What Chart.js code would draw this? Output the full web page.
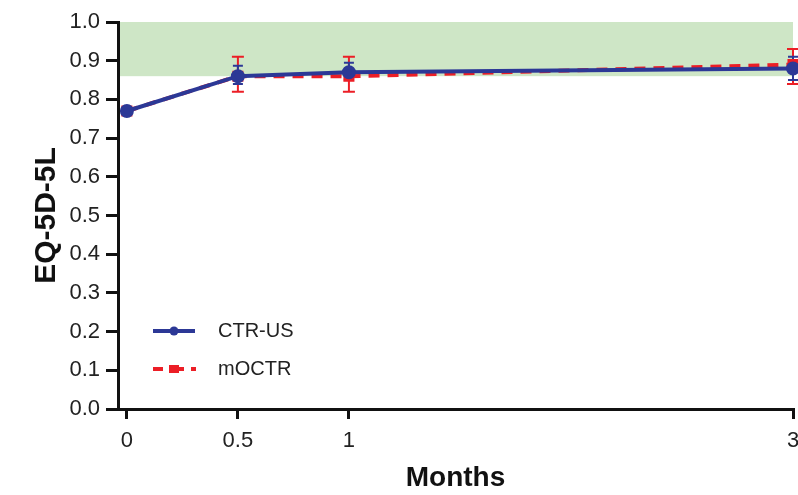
<!DOCTYPE html>
<html>
<head>
<meta charset="utf-8">
<script src="https://cdn.jsdelivr.net/npm/chart.js@4.4.1/dist/chart.umd.min.js"></script>
<style>
  html, body { margin: 0; padding: 0; background: #fff; }
  #wrap { width: 798px; height: 495px; }
</style>
</head>
<body>
<div id="wrap"><canvas id="eqChart" width="798" height="495"></canvas></div>
<script>
// Data
const months = [0, 0.5, 1, 3];
const xTickValues = [0, 0.5, 1, 3];

const ctrUsMean = [0.77, 0.86, 0.87, 0.88];
const ctrUsLow  = [0.77, 0.84, 0.85, 0.85];
const ctrUsHigh = [0.77, 0.887, 0.895, 0.91];

const moctrMean = [0.77, 0.86, 0.86, 0.89];
const moctrLow  = [0.77, 0.82, 0.82, 0.84];
const moctrHigh = [0.77, 0.91, 0.91, 0.93];

const bandLow = 0.86;
const bandHigh = 1.0;

const BLUE = 'rgb(44,56,150)';
const RED = 'rgb(236,30,38)';
const GREEN = 'rgb(206,230,198)';
const FONT = '"Liberation Sans", Arial, sans-serif';

// green reference band behind everything
const bandPlugin = {
    id: 'band',
    beforeDatasetsDraw(chart) {
        const { ctx, chartArea, scales } = chart;
        const yTop = scales.y.getPixelForValue(bandHigh);
        const yBot = scales.y.getPixelForValue(bandLow);
        ctx.save();
        ctx.fillStyle = GREEN;
        ctx.fillRect(chartArea.left + 2, yTop, chartArea.right - chartArea.left - 2, yBot - yTop);
        ctx.restore();
    }
};

// error bars, drawn before the lines
const errorBarPlugin = {
    id: 'errorBars',
    beforeDatasetsDraw(chart) {
        const { ctx, scales } = chart;
        const sets = [
            { lo: moctrLow, hi: moctrHigh, color: RED, cap: 6 },
            { lo: ctrUsLow, hi: ctrUsHigh, color: BLUE, cap: 5 }
        ];
        ctx.save();
        sets.forEach(s => {
            ctx.strokeStyle = s.color;
            ctx.lineWidth = 2;
            months.forEach((m, i) => {
                const x = scales.x.getPixelForValue(m);
                const y1 = scales.y.getPixelForValue(s.lo[i]);
                const y2 = scales.y.getPixelForValue(s.hi[i]);
                ctx.beginPath();
                ctx.moveTo(x, y1); ctx.lineTo(x, y2);
                ctx.moveTo(x - s.cap, y1); ctx.lineTo(x + s.cap, y1);
                ctx.moveTo(x - s.cap, y2); ctx.lineTo(x + s.cap, y2);
                ctx.stroke();
            });
        });
        ctx.restore();
    }
};

// legend inside the plot, lower left
const legendPlugin = {
    id: 'innerLegend',
    afterDraw(chart) {
        const { ctx } = chart;
        const ds = chart.data.datasets;
        ctx.save();
        ctx.font = '20px ' + FONT;
        ctx.textBaseline = 'middle';

        // CTR-US
        let y = 331;
        ctx.strokeStyle = BLUE;
        ctx.lineWidth = 4;
        ctx.beginPath(); ctx.moveTo(153, y); ctx.lineTo(195, y); ctx.stroke();
        ctx.fillStyle = BLUE;
        ctx.beginPath(); ctx.arc(174, y, 4.5, 0, Math.PI * 2); ctx.fill();
        ctx.fillStyle = '#222';
        ctx.fillText(ds[0].label, 218, y);

        // mOCTR
        y = 369;
        ctx.strokeStyle = RED;
        ctx.beginPath(); ctx.moveTo(153, y); ctx.lineTo(163, y); ctx.stroke();
        ctx.beginPath(); ctx.moveTo(191, y); ctx.lineTo(196, y); ctx.stroke();
        ctx.fillStyle = RED;
        ctx.fillRect(169, y - 4, 10, 8);
        ctx.fillRect(179, y - 2, 5, 4);
        ctx.fillStyle = '#222';
        ctx.fillText(ds[1].label, 218, y);
        ctx.restore();
    }
};

const ctx = document.getElementById('eqChart').getContext('2d');
new Chart(ctx, {
    type: 'line',
    data: {
        datasets: [
            {
                label: 'CTR-US',
                data: months.map((m, i) => ({ x: m, y: ctrUsMean[i] })),
                borderColor: BLUE,
                backgroundColor: BLUE,
                borderWidth: 4,
                pointRadius: 5,
                pointStyle: 'circle',
                tension: 0,
                clip: false
            },
            {
                label: 'mOCTR',
                data: months.map((m, i) => ({ x: m, y: moctrMean[i] })),
                borderColor: RED,
                backgroundColor: RED,
                borderWidth: 4,
                borderDash: [11, 8],
                pointRadius: 5,
                pointStyle: 'rect',
                tension: 0,
                clip: false
            }
        ]
    },
    options: {
        responsive: false,
        animation: false,
        layout: { autoPadding: false, padding: { top: 22, right: 5, left: 0, bottom: 0 } },
        plugins: {
            legend: { display: false },
            tooltip: { enabled: false }
        },
        scales: {
            x: {
                type: 'linear',
                min: -0.04,
                max: 3,
                afterBuildTicks(scale) {
                    scale.ticks = xTickValues.map(v => ({ value: v }));
                },
                afterFit(scale) {
                    scale.height = 86;
                    // let the "3" label run to the edge like the original
                    scale.paddingLeft = 0;
                    scale.paddingRight = 0;
                },
                ticks: {
                    callback: v => String(v),
                    color: '#222',
                    padding: 9,
                    maxRotation: 0,
                    font: { family: FONT, size: 22 }
                },
                grid: {
                    drawOnChartArea: false,
                    drawTicks: true,
                    tickLength: 10,
                    color: '#111',
                    lineWidth: 3
                },
                border: { display: true, color: '#111', width: 3 },
                title: {
                    display: true,
                    text: 'Months',
                    color: '#111',
                    font: { family: FONT, size: 28, weight: 'bold' },
                    padding: { top: 0, bottom: 0 }
                }
            },
            y: {
                min: 0,
                max: 1,
                afterFit(scale) { scale.width = 118; },
                ticks: {
                    stepSize: 0.1,
                    callback: v => v.toFixed(1),
                    color: '#222',
                    padding: 6,
                    font: { family: FONT, size: 22 }
                },
                grid: {
                    drawOnChartArea: false,
                    drawTicks: true,
                    tickLength: 12,
                    color: '#111',
                    lineWidth: 3
                },
                border: { display: true, color: '#111', width: 3 },
                title: {
                    display: true,
                    text: 'EQ-5D-5L',
                    color: '#111',
                    font: { family: FONT, size: 30, weight: 'bold' },
                    padding: { top: 29, bottom: 0 }
                }
            }
        }
    },
    plugins: [bandPlugin, errorBarPlugin, legendPlugin]
});
</script>
</body>
</html>
